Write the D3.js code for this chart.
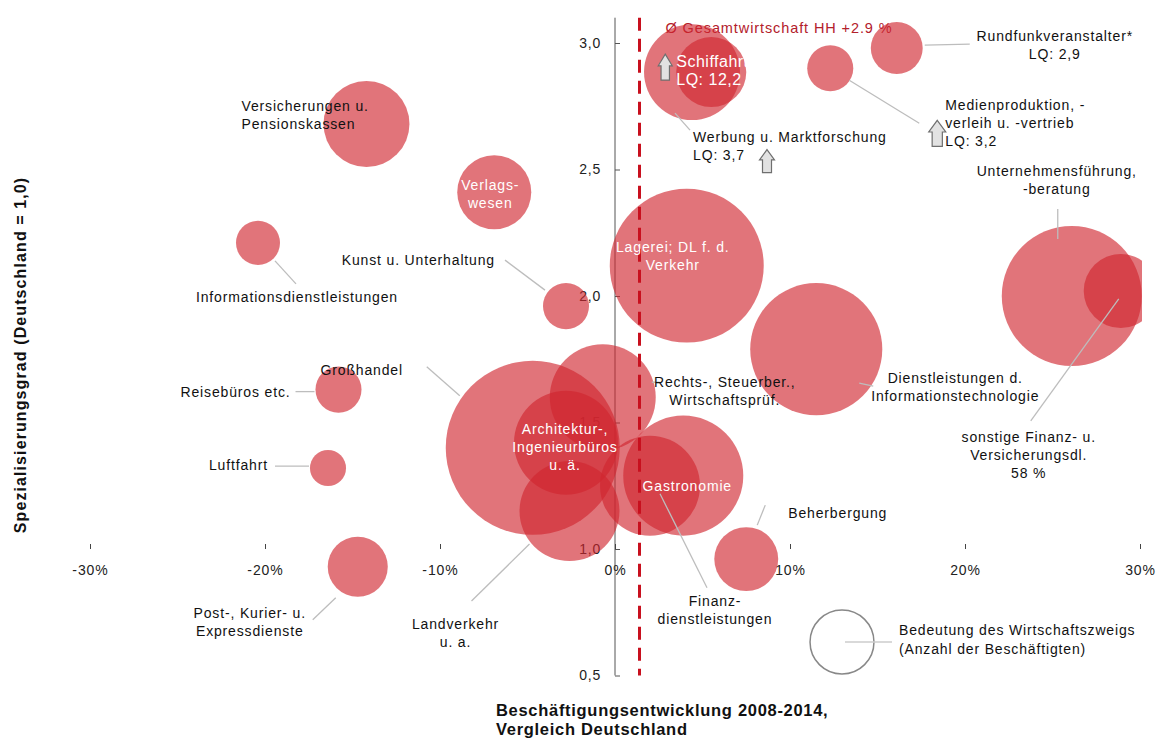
<!DOCTYPE html>
<html><head><meta charset="utf-8">
<script src="https://cdn.jsdelivr.net/npm/d3@7"></script>
<style>
body{margin:0;background:#fff;}
svg{display:block;font-family:"Liberation Sans",Arial,sans-serif;}
</style></head>
<body><svg id="chart" width="1163" height="738"></svg>
<script>
// ---------- DATA ----------
const sectors = ["Versicherungen u. Pensionskassen","Verlagswesen","Informationsdienstleistungen","Kunst u. Unterhaltung","Lagerei; DL f. d. Verkehr","Werbung u. Marktforschung","Schiffahrt","Medienproduktion, -verleih u. -vertrieb","Rundfunkveranstalter","Unternehmensführung, -beratung","sonstige Finanz- u. Versicherungsdl.","Dienstleistungen d. Informationstechnologie","Rechts-, Steuerber., Wirtschaftsprüf.","Architektur-, Ingenieurbüros u. ä.","Großhandel","Reisebüros etc.","Luftfahrt","Post-, Kurier- u. Expressdienste","Landverkehr u. a.","Gastronomie","Finanzdienstleistungen","Beherbergung"];
// employment growth 2008-2014 vs Germany (percentage points)
const growth = [-14.2,-6.9,-20.4,-2.8,4.1,4.4,5.5,12.3,16.1,26.1,28.9,11.5,-0.7,-2.8,-4.7,-15.8,-16.4,-14.7,-2.6,3.9,2.0,7.5];
// specialisation (location quotient), capped display values
const specialisation = [2.68,2.41,2.21,1.96,2.12,2.885,2.885,2.90,2.98,2.00,2.02,1.79,1.60,1.42,1.40,1.63,1.32,0.93,1.15,1.29,1.25,0.96];
// employees (thousand)
const employees = [24.4,18.1,6.4,7.0,78.3,30.4,16.2,7.0,8.9,64.7,18.1,57.6,37.1,35.7,100,7.0,4.3,11.9,33.0,47.6,33.0,13.5];
const labelTexts = ["Versicherungen u.\nPensionskassen","Verlags-\nwesen","Informationsdienstleistungen","Kunst u. Unterhaltung","Lagerei; DL f. d.\nVerkehr","Werbung u. Marktforschung\nLQ: 3,7","Schiffahrt\nLQ: 12,2","Medienproduktion, -\nverleih u. -vertrieb\nLQ: 3,2","Rundfunkveranstalter*\nLQ: 2,9","Unternehmensführung,\n-beratung","sonstige Finanz- u.\nVersicherungsdl.\n58 %","Dienstleistungen d.\nInformationstechnologie","Rechts-, Steuerber.,\nWirtschaftsprüf.","Architektur-,\nIngenieurbüros\nu. ä.","Großhandel","Reisebüros etc.","Luftfahrt","Post-, Kurier- u.\nExpressdienste","Landverkehr\nu. a.","Gastronomie","Finanz-\ndienstleistungen","Beherbergung"];
const xTicks = [-30,-20,-10,0,10,20,30];
const yTicks = [0.5,1.0,1.5,2.0,2.5,3.0];
const avgHH = 1.4;            // position of the Ø line on the x scale
const avgLabel = "Ø Gesamtwirtschaft HH  +2.9 %";
const legendValue = 13.5;
const arrowSectors = ["Schiffahrt","Werbung u. Marktforschung","Medienproduktion, -verleih u. -vertrieb"];

// ---------- LAYOUT (pixel offsets from bubble centre) ----------
const labelLayout = [
 ["start",-125,-18,"#111"],["middle",-4,-7,"#fff"],["middle",39,54,"#111"],["end",-71,-46,"#111"],
 ["middle",-14,-19,"#fff"],["start",1,65,"#111"],["start",-35,-11,"#fff",16,0.5],["start",115,37,"#111"],
 ["middle",158,-12,"#111"],["middle",-15,-125,"#111"],["middle",-92,146,"#111"],["middle",139,29,"#111"],
 ["middle",122,-15,"#111"],["middle",-1,-14,"#fff"],["middle",-171,-78,"#111"],["end",-48,2,"#111"],
 ["end",-60,-3,"#111"],["middle",-108,46,"#111"],["middle",-114,113,"#111"],["middle",4,10,"#fff"],
 ["middle",65,115,"#111"],["start",42,-46,"#111"]];
const leaders = [null,null,[17,18,38,41],[-61,-46,-21,-16],null,[-17,41,-2,58],null,[19,12,89,55],
 [28,-3,73,-4],[-14,-87,-14,-57],[-2,8,-90,130],[43,34,57,37],[49,-15,57,-15],null,[-106,-81,-73,-52],
 [-43,2,-24,2],[-53,-2,-19,-2],[-22,31,-45,53],[-40,33,-98,90],null,[10,8,57,102],[11,-34,19,-54]];
const arrowLayout = [[-46,-5,14,26],[75,89,15,23],[107,65,17,26]];

// ---------- CHART ----------
const svg = d3.select("#chart");
const x = d3.scaleLinear().domain([-30,30]).range([90,1140]);
const y = d3.scaleLinear().domain([0.5,3.1]).range([675.5,17.7]);
const r = d3.scaleSqrt().domain([0,100]).range([0,87]);
const FONT = "Liberation Sans, Arial, sans-serif";

svg.append("defs").append("clipPath").attr("id","clip")
  .append("rect").attr("x",0).attr("y",0).attr("width",1142).attr("height",738);

// Y axis
const yAxis = svg.append("g").attr("transform",`translate(${x(0)},0)`)
  .call(d3.axisRight(y).tickValues(yTicks).tickSize(5).tickFormat(d=>d3.format(".1f")(d).replace(".",",")));
yAxis.select(".domain").attr("stroke","#555").attr("d",`M0,${y(3.1)}V${y(0.5)}`);
yAxis.selectAll(".tick line").attr("stroke","#555");
yAxis.selectAll(".tick text").attr("x",-14).attr("text-anchor","end").attr("font-size",14)
  .attr("letter-spacing","0.8px").attr("fill","#222").attr("font-family",FONT);

// X axis (ticks only)
const xAxis = svg.append("g").attr("transform",`translate(0,${y(1.0)})`)
  .call(d3.axisTop(x).tickValues(xTicks).tickSize(5).tickFormat(d=>d+"%"));
xAxis.select(".domain").remove();
xAxis.selectAll(".tick line").attr("stroke","#444");
xAxis.selectAll(".tick text").attr("y",21).attr("dy","0.35em").attr("font-size",14)
  .attr("letter-spacing","0.9px").attr("fill","#222").attr("font-family",FONT);

// Average label (under bubbles)
svg.append("text").attr("x",x(avgHH)+26).attr("y",28).attr("dy","0.35em")
  .attr("font-size",14.5).attr("letter-spacing","0.9px").attr("fill","#b3202b").text(avgLabel);

const data = sectors.map((s,i)=>({name:s,gx:growth[i],lq:specialisation[i],emp:employees[i],label:labelTexts[i],i}));

// bubbles
svg.append("g").attr("clip-path","url(#clip)").selectAll("circle").data(data).join("circle")
  .attr("cx",d=>x(d.gx)).attr("cy",d=>y(d.lq)).attr("r",d=>r(d.emp))
  .attr("fill","#d0262f").attr("fill-opacity",0.64);

// dashed average line
svg.append("line").attr("x1",x(avgHH)).attr("x2",x(avgHH)).attr("y1",y(3.1)).attr("y2",y(0.5))
  .attr("stroke","#c8101e").attr("stroke-width",3).attr("stroke-dasharray","13,8");

// leader lines
const lg = svg.append("g");
data.forEach(d=>{
  const L = leaders[d.i]; if(!L) return;
  const cx = x(d.gx), cy = y(d.lq);
  lg.append("line").attr("x1",cx+L[0]).attr("y1",cy+L[1]).attr("x2",cx+L[2]).attr("y2",cy+L[3])
    .attr("stroke","#bdbdbd").attr("stroke-width",1.3);
});

// labels
const lab = svg.append("g");
data.forEach(d=>{
  const [anchor,dx,dy,col,fs,ls] = labelLayout[d.i];
  const cx = x(d.gx), cy = y(d.lq);
  const t = lab.append("text").attr("text-anchor",anchor).attr("fill",col)
    .attr("font-size",fs||14).attr("letter-spacing",(ls===undefined?0.85:ls)+"px");
  d.label.split("\n").forEach((ln,k)=>{
    t.append("tspan").attr("x",cx+dx).attr("y",cy+dy+k*18).attr("dy","0.35em").text(ln);
  });
});

// arrows
arrowSectors.forEach((s,k)=>{
  const d = data.find(e=>e.name===s);
  const [dx,dy,w,h] = arrowLayout[k];
  const cx = x(d.gx)+dx, cy = y(d.lq)+dy;
  const top = cy-h/2, bot = cy+h/2, hh = h*0.45, sw = w*0.3;
  const pts = [[cx,top],[cx+w/2,top+hh],[cx+sw,top+hh],[cx+sw,bot],[cx-sw,bot],[cx-sw,top+hh],[cx-w/2,top+hh]];
  svg.append("path").attr("d","M"+pts.map(p=>p.join(",")).join("L")+"Z")
    .attr("fill","#e2e2e2").attr("stroke","#6f6f6f").attr("stroke-width",1.2);
});

// legend
const lgx = 842, lgy = 642;
svg.append("circle").attr("cx",lgx).attr("cy",lgy).attr("r",r(legendValue))
  .attr("fill","none").attr("stroke","#888").attr("stroke-width",1.5);
svg.append("line").attr("x1",lgx+3).attr("x2",lgx+50).attr("y1",lgy).attr("y2",lgy).attr("stroke","#ccc").attr("stroke-width",1.3);
const lt = svg.append("text").attr("font-size",14).attr("letter-spacing","0.85px").attr("fill","#111");
["Bedeutung des Wirtschaftszweigs","(Anzahl der Beschäftigten)"].forEach((ln,k)=>
  lt.append("tspan").attr("x",899).attr("y",630+k*19).attr("dy","0.35em").text(ln));

// axis titles
const xt = svg.append("text").attr("font-size",16.5).attr("letter-spacing","0.7px").attr("font-weight","bold").attr("fill","#111");
["Beschäftigungsentwicklung 2008-2014,","Vergleich Deutschland"].forEach((ln,k)=>
  xt.append("tspan").attr("x",496).attr("y",710+k*19).attr("dy","0.35em").text(ln));
svg.append("text").attr("transform","translate(20,355) rotate(-90)").attr("text-anchor","middle")
  .attr("dy","0.35em").attr("font-size",16).attr("letter-spacing","1.1px").attr("font-weight","bold").attr("fill","#111")
  .text("Spezialisierungsgrad (Deutschland = 1,0)");
</script></body></html>
